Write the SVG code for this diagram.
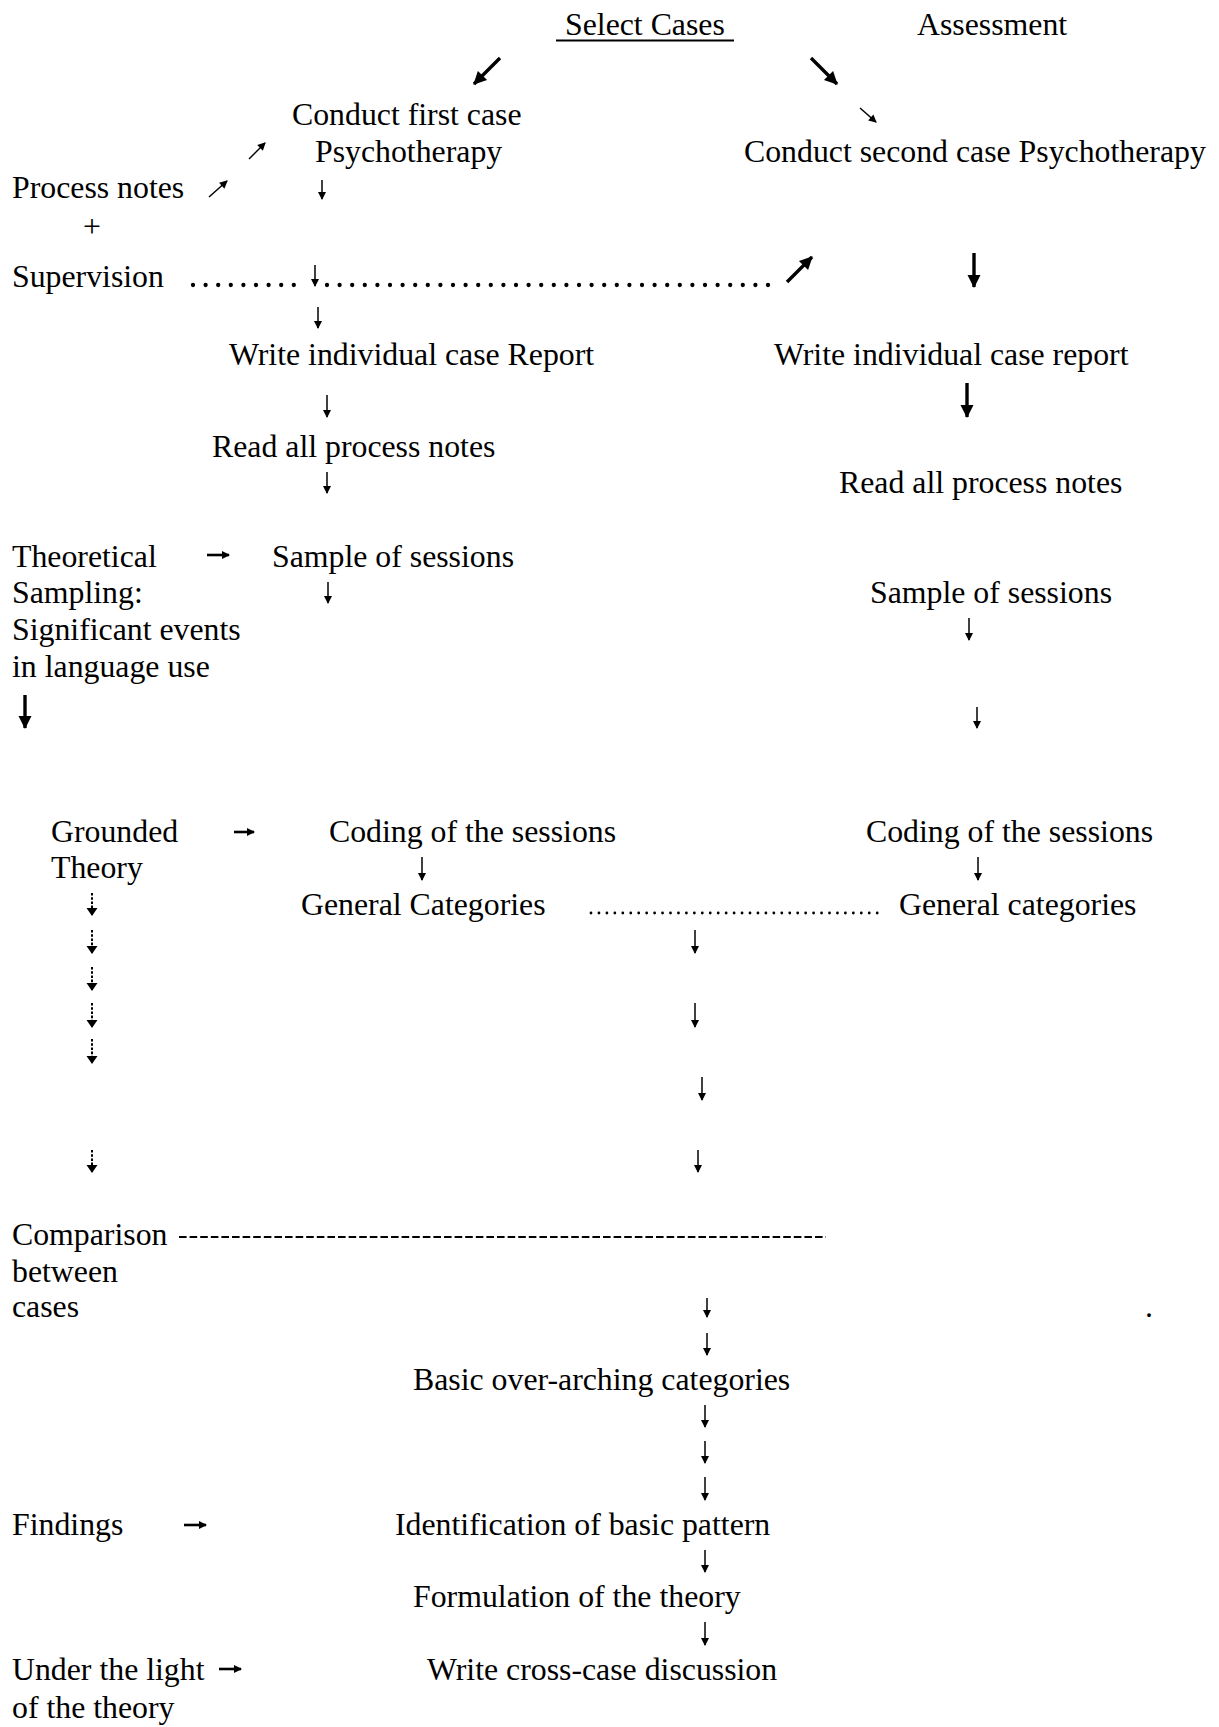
<svg xmlns="http://www.w3.org/2000/svg" width="1219" height="1727" viewBox="0 0 1219 1727">
<style>
text{font-family:"Liberation Serif","Times New Roman",serif;font-size:31.8px;fill:#000}
.a{stroke:#000;stroke-width:1.5;fill:none;marker-end:url(#s)}
.h{stroke:#000;stroke-width:2.6;fill:none;marker-end:url(#s)}
.b{stroke:#000;stroke-width:3.4;fill:none;marker-end:url(#b)}
.d{stroke:#000;stroke-width:2;fill:none;stroke-dasharray:2.6 1.6;marker-end:url(#dh)}
.dots{stroke:#000;stroke-linecap:round;fill:none}
</style>
<defs>
<marker id="s" markerUnits="userSpaceOnUse" markerWidth="10" markerHeight="10" viewBox="0 -5 8 10" refX="7" refY="0" orient="auto"><path d="M0,-4 L8,0 L0,4 z" fill="#000"/></marker>
<marker id="b" markerUnits="userSpaceOnUse" markerWidth="14" markerHeight="15" viewBox="0 -7.5 13 15" refX="12" refY="0" orient="auto"><path d="M0,-6.5 L13,0 L0,6.5 z" fill="#000"/></marker>
<marker id="dh" markerUnits="userSpaceOnUse" markerWidth="10" markerHeight="14" viewBox="0 -7 8 14" refX="7" refY="0" orient="auto"><path d="M0,-5.5 L8,0 L0,5.5 z" fill="#000"/></marker>
</defs>
<rect width="1219" height="1727" fill="#fff"/>

<g id="select-cases"><text x="565" y="35">Select Cases</text><line x1="556" y1="40.5" x2="734" y2="40.5" stroke="#000" stroke-width="2"/></g>
<g id="assessment"><text x="917" y="35">Assessment</text></g>
<g id="conduct-first"><text x="292" y="125">Conduct first case</text><text x="315" y="162">Psychotherapy</text></g>
<g id="conduct-second"><text x="744" y="162">Conduct second case Psychotherapy</text></g>
<g id="process-notes"><text x="12" y="198">Process notes</text><text x="92" y="237" text-anchor="middle">+</text><text x="12" y="287">Supervision</text></g>
<g id="report-1"><text x="229" y="365">Write individual case Report</text></g>
<g id="report-2"><text x="774" y="365">Write individual case report</text></g>
<g id="read-1"><text x="212" y="457">Read all process notes</text></g>
<g id="read-2"><text x="839" y="493">Read all process notes</text></g>
<g id="theoretical-sampling"><text x="12" y="567">Theoretical</text><text x="12" y="603">Sampling:</text><text x="12" y="640">Significant events</text><text x="12" y="677">in language use</text></g>
<g id="sample-1"><text x="272" y="567">Sample of sessions</text></g>
<g id="sample-2"><text x="870" y="603">Sample of sessions</text></g>
<g id="grounded-theory"><text x="51" y="842">Grounded</text><text x="51" y="878">Theory</text></g>
<g id="coding-1"><text x="329" y="842">Coding of the sessions</text></g>
<g id="coding-2"><text x="866" y="842">Coding of the sessions</text></g>
<g id="general-1"><text x="301" y="915">General Categories</text></g>
<g id="general-2"><text x="899" y="915">General categories</text></g>
<g id="comparison"><text x="12" y="1245">Comparison</text><text x="12" y="1282">between</text><text x="12" y="1317">cases</text></g>
<g id="stray-dot"><text x="1145" y="1317">.</text></g>
<g id="basic-categories"><text x="413" y="1390">Basic over-arching categories</text></g>
<g id="findings"><text x="12" y="1535">Findings</text></g>
<g id="identification"><text x="395" y="1535">Identification of basic pattern</text></g>
<g id="formulation"><text x="413" y="1607">Formulation of the theory</text></g>
<g id="under-light"><text x="12" y="1680">Under the light</text><text x="12" y="1718">of the theory</text></g>
<g id="cross-case"><text x="427" y="1680">Write cross-case discussion</text></g>

<g id="connectors">
<line class="b" x1="500" y1="58" x2="474" y2="84"/>
<line class="b" x1="811" y1="58" x2="837" y2="84"/>
<line class="a" x1="860" y1="108" x2="876" y2="122"/>
<line class="a" x1="249" y1="159" x2="265" y2="143"/>
<line class="a" x1="209" y1="197" x2="227" y2="181"/>
<line class="a" x1="322" y1="180" x2="322" y2="199"/>
<line class="dots" x1="193" y1="285" x2="305" y2="285" stroke-width="4.3" stroke-dasharray="0 12.6"/>
<line class="dots" x1="327" y1="285" x2="777" y2="285" stroke-width="4.3" stroke-dasharray="0 12.6"/>
<line class="a" x1="315" y1="265" x2="315" y2="286"/>
<line class="b" x1="787" y1="282" x2="812" y2="257"/>
<line class="b" x1="974" y1="253" x2="974" y2="287"/>
<line class="a" x1="318" y1="307" x2="318" y2="328"/>
<line class="a" x1="327" y1="395" x2="327" y2="417"/>
<line class="b" x1="967" y1="383" x2="967" y2="417"/>
<line class="a" x1="327" y1="472" x2="327" y2="493"/>
<line class="h" x1="207" y1="555" x2="229" y2="555"/>
<line class="a" x1="328" y1="582" x2="328" y2="603"/>
<line class="a" x1="969" y1="618" x2="969" y2="640"/>
<line class="b" x1="25" y1="695" x2="25" y2="728"/>
<line class="a" x1="977" y1="707" x2="977" y2="728"/>
<line class="h" x1="234" y1="832" x2="254" y2="832"/>
<line class="a" x1="422" y1="857" x2="422" y2="880"/>
<line class="a" x1="978" y1="857" x2="978" y2="880"/>
<line class="dots" x1="591" y1="913" x2="881" y2="913" stroke-width="2.8" stroke-dasharray="0 7.95"/>
<line class="d" x1="92" y1="893" x2="92" y2="915"/>
<line class="d" x1="92" y1="930" x2="92" y2="953"/>
<line class="d" x1="92" y1="967" x2="92" y2="990"/>
<line class="d" x1="92" y1="1003" x2="92" y2="1027"/>
<line class="d" x1="92" y1="1039" x2="92" y2="1063"/>
<line class="d" x1="92" y1="1150" x2="92" y2="1172"/>
<line class="a" x1="695" y1="930" x2="695" y2="953"/>
<line class="a" x1="695" y1="1003" x2="695" y2="1027"/>
<line class="a" x1="702" y1="1077" x2="702" y2="1100"/>
<line class="a" x1="698" y1="1150" x2="698" y2="1172"/>
<line x1="179" y1="1237" x2="826" y2="1237" stroke="#000" stroke-width="2" stroke-dasharray="7.6 3"/>
<line class="a" x1="707" y1="1298" x2="707" y2="1317"/>
<line class="a" x1="707" y1="1333" x2="707" y2="1355"/>
<line class="a" x1="705" y1="1405" x2="705" y2="1427"/>
<line class="a" x1="705" y1="1441" x2="705" y2="1463"/>
<line class="a" x1="705" y1="1477" x2="705" y2="1500"/>
<line class="h" x1="184" y1="1525" x2="206" y2="1525"/>
<line class="a" x1="705" y1="1550" x2="705" y2="1572"/>
<line class="a" x1="705" y1="1622" x2="705" y2="1645"/>
<line class="h" x1="219" y1="1669" x2="241" y2="1669"/>
</g>
</svg>
